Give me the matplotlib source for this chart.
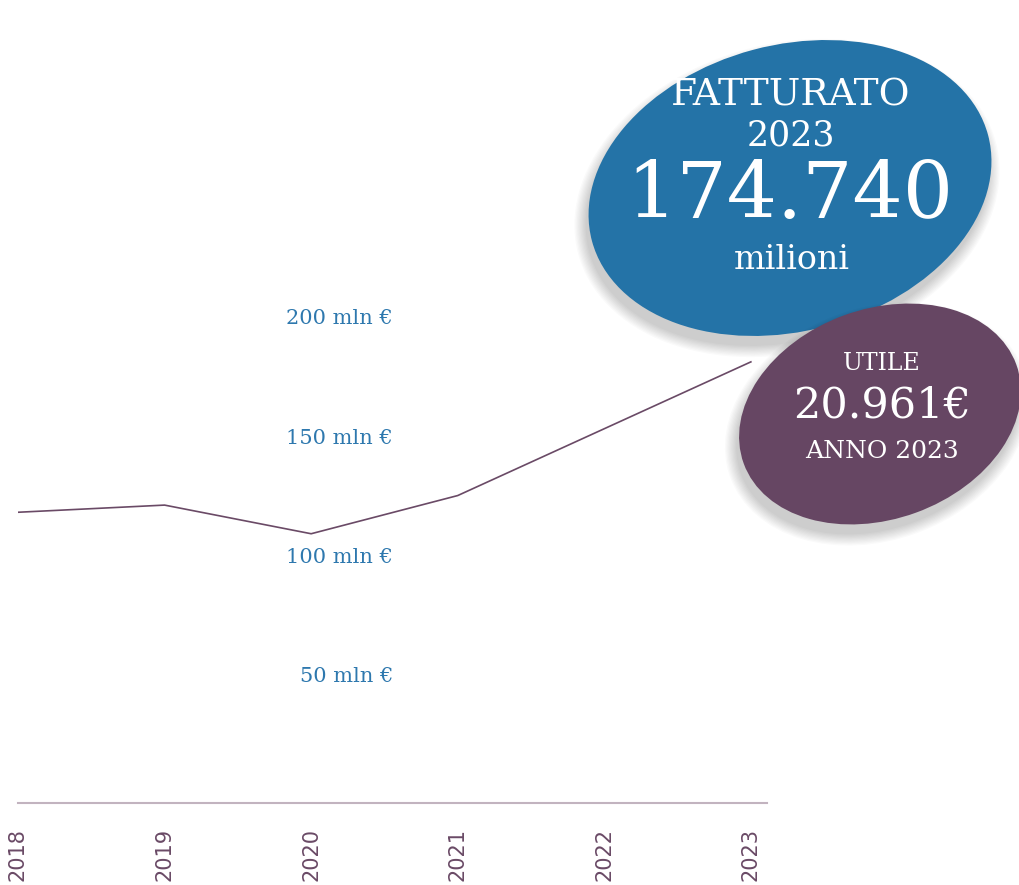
import matplotlib.pyplot as plt
import matplotlib.transforms as mtransforms
from matplotlib.patches import Ellipse

# --- data ---
years = [2018, 2019, 2020, 2021, 2022, 2023]
revenue_mln = [119, 122, 110, 126, 154, 182]
ytick_vals = [50, 100, 150, 200]
ytick_labels = ["50 mln €", "100 mln €", "150 mln €", "200 mln €"]

fatturato_lines = ["FATTURATO", "2023", "174.740", "milioni"]
utile_lines = ["UTILE", "20.961€", "ANNO 2023"]

BLUE = "#2473A7"
PURPLE = "#664663"
LINE_COL = "#6A4A66"
TICK_BLUE = "#2E78AE"
SERIF = "DejaVu Serif"

W, H = 1020, 885
fig = plt.figure(figsize=(W / 100, H / 100), dpi=100)

# main chart axes, placed in pixel terms
ax = fig.add_axes([18 / W, (H - 803) / H, 749 / W, 803 / H])
ax.plot(years, revenue_mln, color=LINE_COL, lw=1.2)
ax.set_xlim(2018, 2023.11)
ax.set_ylim(-2.8, 333.6)

for s in ["top", "left", "right"]:
    ax.spines[s].set_visible(False)
ax.spines["bottom"].set_color("#C2B3BF")
ax.spines["bottom"].set_linewidth(1.5)
ax.set_yticks([])
ax.set_xticks(years)
ax.set_xticklabels([str(y) for y in years], rotation=90, color=LINE_COL,
                   fontsize=15, va="top", ha="center")
ax.tick_params(axis="x", length=0, pad=18)

# value labels sit in the middle of the plot, right aligned
trans = mtransforms.blended_transform_factory(fig.transFigure, ax.transData)
for v, lab in zip(ytick_vals, ytick_labels):
    ax.text(393 / W, v, lab, transform=trans, ha="right", va="center",
            color=TICK_BLUE, fontsize=15, family=SERIF)

# --- bubbles on an overlay in pixel coords ---
ov = fig.add_axes([0, 0, 1, 1], zorder=5)
ov.set_xlim(0, W)
ov.set_ylim(H, 0)
ov.axis("off")
ov.patch.set_alpha(0)


def bubble(cx, cy, w, h, ang, color):
    # soft drop shadow, offset downwards
    for i in range(10):
        grow = i * 2.5
        ov.add_patch(Ellipse((cx - 3, cy + 10), w + grow, h + grow, angle=ang,
                             color="#000000", alpha=0.018, lw=0))
    ov.add_patch(Ellipse((cx, cy), w, h, angle=ang, color=color, lw=0))


bubble(790, 188, 410, 286, -15, BLUE)
bubble(880, 414, 290, 210, -20, PURPLE)

ov.text(791, 95, fatturato_lines[0], ha="center", va="center", color="white",
        fontsize=27, family=SERIF)
ov.text(791, 136, fatturato_lines[1], ha="center", va="center", color="white",
        fontsize=25, family=SERIF)
ov.text(790, 196, fatturato_lines[2], ha="center", va="center", color="white",
        fontsize=57, family=SERIF)
ov.text(792, 260, fatturato_lines[3], ha="center", va="center", color="white",
        fontsize=24, family=SERIF)

ov.text(882, 364, utile_lines[0], ha="center", va="center", color="white",
        fontsize=17, family=SERIF)
ov.text(882, 406, utile_lines[1], ha="center", va="center", color="white",
        fontsize=31, family=SERIF)
ov.text(882, 451, utile_lines[2], ha="center", va="center", color="white",
        fontsize=18, family=SERIF)

fig.savefig("out.png", dpi=100, facecolor="white")
